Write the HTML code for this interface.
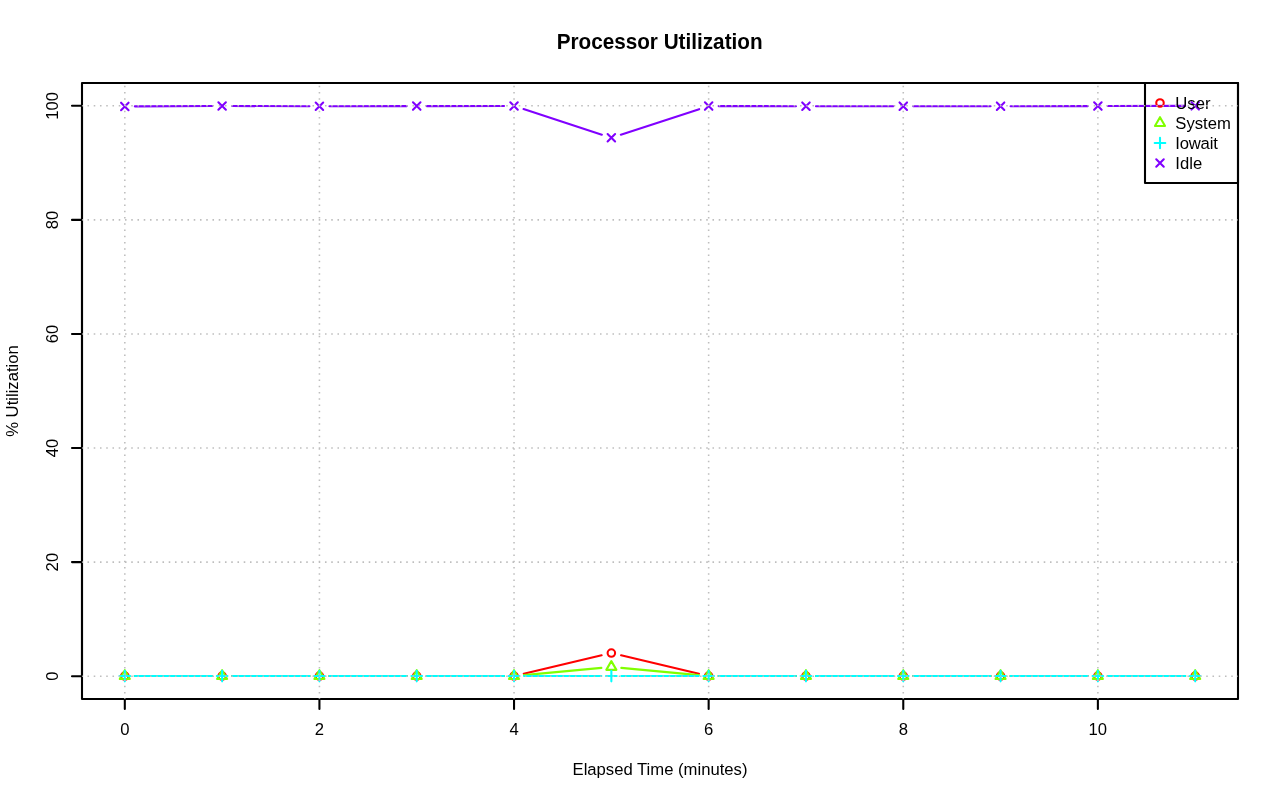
<!DOCTYPE html>
<html><head><meta charset="utf-8"><title>Processor Utilization</title>
<style>
html,body{margin:0;padding:0;background:#fff;}
body{width:1280px;height:801px;overflow:hidden;}
svg{display:block;will-change:transform;}
text{font-family:"Liberation Sans",sans-serif;fill:#000;}
</style></head><body>
<svg width="1280" height="801" viewBox="0 0 1280 801">
<rect x="0" y="0" width="1280" height="801" fill="#fff"/>
<rect x="82.0" y="83.0" width="1156.0" height="616.0" fill="none" stroke="#000" stroke-width="2.083" stroke-linejoin="round"/>
<path d="M124.81 699.0H1097.88M124.81 699.0v10M319.43 699.0v10M514.04 699.0v10M708.65 699.0v10M903.27 699.0v10M1097.88 699.0v10M82.0 676.19V105.81M82.0 676.19h-10M82.0 562.11h-10M82.0 448.04h-10M82.0 333.96h-10M82.0 219.89h-10M82.0 105.81h-10" fill="none" stroke="#000" stroke-width="2.083" stroke-linecap="round"/>
<text x="124.81" y="735" font-size="16.667" text-anchor="middle">0</text>
<text x="319.43" y="735" font-size="16.667" text-anchor="middle">2</text>
<text x="514.04" y="735" font-size="16.667" text-anchor="middle">4</text>
<text x="708.65" y="735" font-size="16.667" text-anchor="middle">6</text>
<text x="903.27" y="735" font-size="16.667" text-anchor="middle">8</text>
<text x="1097.88" y="735" font-size="16.667" text-anchor="middle">10</text>
<text transform="translate(58.4 676.19) rotate(-90)" font-size="16.667" text-anchor="middle">0</text>
<text transform="translate(58.4 562.11) rotate(-90)" font-size="16.667" text-anchor="middle">20</text>
<text transform="translate(58.4 448.04) rotate(-90)" font-size="16.667" text-anchor="middle">40</text>
<text transform="translate(58.4 333.96) rotate(-90)" font-size="16.667" text-anchor="middle">60</text>
<text transform="translate(58.4 219.89) rotate(-90)" font-size="16.667" text-anchor="middle">80</text>
<text transform="translate(58.4 105.81) rotate(-90)" font-size="16.667" text-anchor="middle">100</text>
<text x="660.0" y="775" font-size="16.667" text-anchor="middle">Elapsed Time (minutes)</text>
<text transform="translate(18 391.0) rotate(-90)" font-size="16.667" text-anchor="middle">% Utilization</text>
<text transform="translate(659.6 49.2) scale(1 1.03)" font-size="20.72" font-weight="bold" text-anchor="middle">Processor Utilization</text>
<path d="M134.81 676.04L212.12 676.04M232.12 676.04L309.43 676.04M329.43 676.04L406.73 676.04M426.73 676.04L504.04 676.04M523.77 673.74L601.62 655.33M621.08 655.33L698.92 673.74M718.65 676.04L795.96 676.04M815.96 676.04L893.27 676.04M913.27 676.04L990.57 676.04M1010.57 676.04L1087.88 676.04M1107.88 676.04L1185.19 676.04" fill="none" stroke="#FF0000" stroke-width="2.083" stroke-linecap="round"/>
<circle cx="124.81" cy="676.04" r="3.75" fill="none" stroke="#FF0000" stroke-width="2.083"/>
<circle cx="222.12" cy="676.04" r="3.75" fill="none" stroke="#FF0000" stroke-width="2.083"/>
<circle cx="319.43" cy="676.04" r="3.75" fill="none" stroke="#FF0000" stroke-width="2.083"/>
<circle cx="416.73" cy="676.04" r="3.75" fill="none" stroke="#FF0000" stroke-width="2.083"/>
<circle cx="514.04" cy="676.04" r="3.75" fill="none" stroke="#FF0000" stroke-width="2.083"/>
<circle cx="611.35" cy="653.03" r="3.75" fill="none" stroke="#FF0000" stroke-width="2.083"/>
<circle cx="708.65" cy="676.04" r="3.75" fill="none" stroke="#FF0000" stroke-width="2.083"/>
<circle cx="805.96" cy="676.04" r="3.75" fill="none" stroke="#FF0000" stroke-width="2.083"/>
<circle cx="903.27" cy="676.04" r="3.75" fill="none" stroke="#FF0000" stroke-width="2.083"/>
<circle cx="1000.57" cy="676.04" r="3.75" fill="none" stroke="#FF0000" stroke-width="2.083"/>
<circle cx="1097.88" cy="676.04" r="3.75" fill="none" stroke="#FF0000" stroke-width="2.083"/>
<circle cx="1195.19" cy="676.04" r="3.75" fill="none" stroke="#FF0000" stroke-width="2.083"/>
<path d="M134.81 676.04L212.12 676.04M232.12 676.04L309.43 676.04M329.43 676.04L406.73 676.04M426.73 676.04L504.04 676.04M524.00 675.11L601.39 667.88M621.30 667.88L698.70 675.11M718.65 676.04L795.96 676.04M815.96 676.04L893.27 676.04M913.27 676.04L990.57 676.04M1010.57 676.04L1087.88 676.04M1107.88 676.04L1185.19 676.04" fill="none" stroke="#80FF00" stroke-width="2.083" stroke-linecap="round"/>
<path d="M124.81 670.21L129.87 678.96L119.76 678.96Z" fill="none" stroke="#80FF00" stroke-width="2.083" stroke-linejoin="round"/>
<path d="M222.12 670.21L227.17 678.96L217.07 678.96Z" fill="none" stroke="#80FF00" stroke-width="2.083" stroke-linejoin="round"/>
<path d="M319.43 670.21L324.48 678.96L314.38 678.96Z" fill="none" stroke="#80FF00" stroke-width="2.083" stroke-linejoin="round"/>
<path d="M416.73 670.21L421.78 678.96L411.68 678.96Z" fill="none" stroke="#80FF00" stroke-width="2.083" stroke-linejoin="round"/>
<path d="M514.04 670.21L519.09 678.96L508.99 678.96Z" fill="none" stroke="#80FF00" stroke-width="2.083" stroke-linejoin="round"/>
<path d="M611.35 661.11L616.40 669.86L606.30 669.86Z" fill="none" stroke="#80FF00" stroke-width="2.083" stroke-linejoin="round"/>
<path d="M708.65 670.21L713.70 678.96L703.60 678.96Z" fill="none" stroke="#80FF00" stroke-width="2.083" stroke-linejoin="round"/>
<path d="M805.96 670.21L811.01 678.96L800.91 678.96Z" fill="none" stroke="#80FF00" stroke-width="2.083" stroke-linejoin="round"/>
<path d="M903.27 670.21L908.32 678.96L898.22 678.96Z" fill="none" stroke="#80FF00" stroke-width="2.083" stroke-linejoin="round"/>
<path d="M1000.57 670.21L1005.62 678.96L995.52 678.96Z" fill="none" stroke="#80FF00" stroke-width="2.083" stroke-linejoin="round"/>
<path d="M1097.88 670.21L1102.93 678.96L1092.83 678.96Z" fill="none" stroke="#80FF00" stroke-width="2.083" stroke-linejoin="round"/>
<path d="M1195.19 670.21L1200.24 678.96L1190.13 678.96Z" fill="none" stroke="#80FF00" stroke-width="2.083" stroke-linejoin="round"/>
<path d="M134.81 676.04L212.12 676.04M232.12 676.04L309.43 676.04M329.43 676.04L406.73 676.04M426.73 676.04L504.04 676.04M524.04 676.04L601.35 676.04M621.35 676.04L698.65 676.04M718.65 676.04L795.96 676.04M815.96 676.04L893.27 676.04M913.27 676.04L990.57 676.04M1010.57 676.04L1087.88 676.04M1107.88 676.04L1185.19 676.04" fill="none" stroke="#00FFFF" stroke-width="2.083" stroke-linecap="round"/>
<path d="M119.51 676.04H130.12M124.81 670.74V681.35" fill="none" stroke="#00FFFF" stroke-width="2.083" stroke-linecap="round"/>
<path d="M216.82 676.04H227.42M222.12 670.74V681.35" fill="none" stroke="#00FFFF" stroke-width="2.083" stroke-linecap="round"/>
<path d="M314.12 676.04H324.73M319.43 670.74V681.35" fill="none" stroke="#00FFFF" stroke-width="2.083" stroke-linecap="round"/>
<path d="M411.43 676.04H422.04M416.73 670.74V681.35" fill="none" stroke="#00FFFF" stroke-width="2.083" stroke-linecap="round"/>
<path d="M508.74 676.04H519.34M514.04 670.74V681.35" fill="none" stroke="#00FFFF" stroke-width="2.083" stroke-linecap="round"/>
<path d="M606.04 676.04H616.65M611.35 670.74V681.35" fill="none" stroke="#00FFFF" stroke-width="2.083" stroke-linecap="round"/>
<path d="M703.35 676.04H713.96M708.65 670.74V681.35" fill="none" stroke="#00FFFF" stroke-width="2.083" stroke-linecap="round"/>
<path d="M800.66 676.04H811.26M805.96 670.74V681.35" fill="none" stroke="#00FFFF" stroke-width="2.083" stroke-linecap="round"/>
<path d="M897.96 676.04H908.57M903.27 670.74V681.35" fill="none" stroke="#00FFFF" stroke-width="2.083" stroke-linecap="round"/>
<path d="M995.27 676.04H1005.88M1000.57 670.74V681.35" fill="none" stroke="#00FFFF" stroke-width="2.083" stroke-linecap="round"/>
<path d="M1092.58 676.04H1103.18M1097.88 670.74V681.35" fill="none" stroke="#00FFFF" stroke-width="2.083" stroke-linecap="round"/>
<path d="M1189.88 676.04H1200.49M1195.19 670.74V681.35" fill="none" stroke="#00FFFF" stroke-width="2.083" stroke-linecap="round"/>
<path d="M134.81 106.34L212.12 106.03M232.12 106.02L309.43 106.24M329.43 106.25L406.73 106.12M426.73 106.09L504.04 106.00M523.55 109.09L601.84 134.65M620.86 134.66L699.14 109.19M718.65 106.11L795.96 106.20M815.96 106.21L893.27 106.21M913.27 106.21L990.57 106.21M1010.57 106.20L1087.88 106.11M1107.88 106.08L1185.19 105.90" fill="none" stroke="#8000FF" stroke-width="2.083" stroke-linecap="round"/>
<path d="M121.06 102.64L128.56 110.14M121.06 110.14L128.56 102.64" fill="none" stroke="#8000FF" stroke-width="2.083" stroke-linecap="round"/>
<path d="M218.37 102.24L225.87 109.74M218.37 109.74L225.87 102.24" fill="none" stroke="#8000FF" stroke-width="2.083" stroke-linecap="round"/>
<path d="M315.68 102.52L323.18 110.02M315.68 110.02L323.18 102.52" fill="none" stroke="#8000FF" stroke-width="2.083" stroke-linecap="round"/>
<path d="M412.98 102.35L420.48 109.85M412.98 109.85L420.48 102.35" fill="none" stroke="#8000FF" stroke-width="2.083" stroke-linecap="round"/>
<path d="M510.29 102.24L517.79 109.74M510.29 109.74L517.79 102.24" fill="none" stroke="#8000FF" stroke-width="2.083" stroke-linecap="round"/>
<path d="M607.60 134.01L615.10 141.51M607.60 141.51L615.10 134.01" fill="none" stroke="#8000FF" stroke-width="2.083" stroke-linecap="round"/>
<path d="M704.90 102.35L712.40 109.85M704.90 109.85L712.40 102.35" fill="none" stroke="#8000FF" stroke-width="2.083" stroke-linecap="round"/>
<path d="M802.21 102.46L809.71 109.96M802.21 109.96L809.71 102.46" fill="none" stroke="#8000FF" stroke-width="2.083" stroke-linecap="round"/>
<path d="M899.52 102.46L907.02 109.96M899.52 109.96L907.02 102.46" fill="none" stroke="#8000FF" stroke-width="2.083" stroke-linecap="round"/>
<path d="M996.82 102.46L1004.32 109.96M996.82 109.96L1004.32 102.46" fill="none" stroke="#8000FF" stroke-width="2.083" stroke-linecap="round"/>
<path d="M1094.13 102.35L1101.63 109.85M1094.13 109.85L1101.63 102.35" fill="none" stroke="#8000FF" stroke-width="2.083" stroke-linecap="round"/>
<path d="M1191.44 102.12L1198.94 109.62M1191.44 109.62L1198.94 102.12" fill="none" stroke="#8000FF" stroke-width="2.083" stroke-linecap="round"/>
<rect x="1145.0" y="83.0" width="93.0" height="100" fill="none" stroke="#000" stroke-width="2.083" stroke-linejoin="round"/>
<circle cx="1160.00" cy="103.00" r="3.75" fill="none" stroke="#FF0000" stroke-width="2.083"/>
<text x="1175.3" y="109.3" font-size="16.667">User</text>
<path d="M1160.00 117.17L1165.05 125.92L1154.95 125.92Z" fill="none" stroke="#80FF00" stroke-width="2.083" stroke-linejoin="round"/>
<text x="1175.3" y="129.3" font-size="16.667">System</text>
<path d="M1154.70 143.00H1165.30M1160.00 137.70V148.30" fill="none" stroke="#00FFFF" stroke-width="2.083" stroke-linecap="round"/>
<text x="1175.3" y="149.3" font-size="16.667" letter-spacing="-0.2">Iowait</text>
<path d="M1156.25 159.25L1163.75 166.75M1156.25 166.75L1163.75 159.25" fill="none" stroke="#8000FF" stroke-width="2.083" stroke-linecap="round"/>
<text x="1175.3" y="169.3" font-size="16.667">Idle</text>
<clipPath id="pc"><rect x="82.0" y="83.0" width="1156.0" height="616.0"/></clipPath>
<path clip-path="url(#pc)" d="M124.81 699.0V83.0M319.43 699.0V83.0M514.04 699.0V83.0M708.65 699.0V83.0M903.27 699.0V83.0M1097.88 699.0V83.0M82.0 676.19H1238.0M82.0 562.11H1238.0M82.0 448.04H1238.0M82.0 333.96H1238.0M82.0 219.89H1238.0M82.0 105.81H1238.0" fill="none" stroke="#BEBEBE" stroke-width="1.5625" stroke-dasharray="1.5625 4.6875" stroke-dashoffset="0.7812" stroke-linecap="butt"/>
</svg></body></html>
